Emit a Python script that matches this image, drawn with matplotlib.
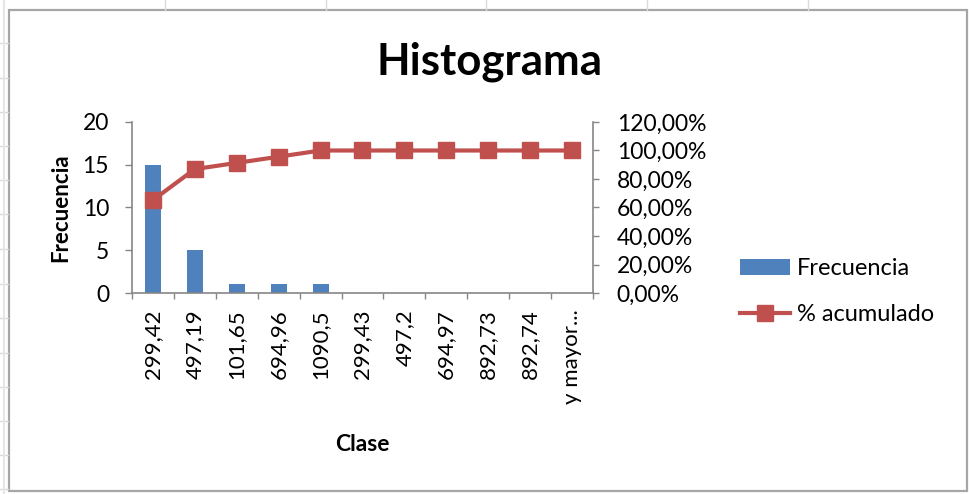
import numpy as np
import matplotlib.pyplot as plt
from matplotlib.lines import Line2D
from matplotlib.patches import Rectangle

# datos del histograma
clases = ['299,42', '497,19', '101,65', '694,96', '1090,5', '299,43',
          '497,2', '694,97', '892,73', '892,74', 'y mayor...']
frecuencia = [15, 5, 1, 1, 1, 0, 0, 0, 0, 0, 0]
acumulado = [65.22, 86.96, 91.30, 95.65, 100.0, 100.0, 100.0, 100.0, 100.0, 100.0, 100.0]

W, H = 969, 494
plt.rcParams['font.family'] = ['Lato', 'DejaVu Sans']


def fx(px):
    return px / W


def fy(py):
    return 1 - py / H


fig = plt.figure(figsize=(W / 100, H / 100), dpi=100)

# fondo de hoja de calculo (celdas)
grid_col = '#DADADA'
for gx in [165, 326, 486, 647, 808]:
    fig.add_artist(Line2D([fx(gx), fx(gx)], [fy(0), fy(10)], color=grid_col, lw=1))
for gy in [43, 78, 112, 146, 180, 214, 249, 284, 318, 353, 387, 421, 455, 489]:
    fig.add_artist(Line2D([fx(0), fx(8)], [fy(gy), fy(gy)], color=grid_col, lw=1))
fig.add_artist(Line2D([fx(4), fx(4)], [fy(0), fy(H)], color='#E6E6E6', lw=1.5))
# borde del grafico
fig.add_artist(Rectangle((fx(9), fy(491)), fx(967) - fx(9), fy(10) - fy(491),
                         fill=False, edgecolor='#A6A6A6', lw=1.6))

ax = fig.add_axes([fx(132), fy(293), fx(593) - fx(132), fy(122) - fy(293)])
x = np.arange(len(clases))
bars = ax.bar(x, frecuencia, width=0.38, color='#4F81BD', label='Frecuencia', zorder=2)
ax.set_xlim(-0.5, len(clases) - 0.5)
ax.set_ylim(0, 20)
ax.set_yticks([0, 5, 10, 15, 20])
ax.set_xticks(x)
ax.set_xticklabels(clases, rotation=90, fontsize=16)
ax.set_xticks(np.arange(-0.5, len(clases), 1), minor=True)
ax.tick_params(axis='x', which='major', length=0, pad=12)
ax.tick_params(axis='x', which='minor', length=4, width=1, color='#868686')
ax.tick_params(axis='y', length=5, width=1, color='#868686', pad=11.5, labelsize=16.5)

ax2 = ax.twinx()
line, = ax2.plot(x, acumulado, color='#C0504D', lw=3, marker='s', ms=12,
                 label='% acumulado', zorder=3)
ax2.set_ylim(0, 120)
ax2.set_yticks(np.arange(0, 121, 20))
ax2.set_yticklabels([f'{v:.2f}'.replace('.', ',') + '%' for v in np.arange(0, 121, 20)])
ax2.tick_params(axis='y', length=4, width=1, color='#868686', pad=13, labelsize=16.5)

for a in (ax, ax2):
    a.spines['top'].set_visible(False)
    for s in ('left', 'right', 'bottom'):
        a.spines[s].set_color('#868686')
        a.spines[s].set_linewidth(1.2)
ax.spines['right'].set_visible(False)
ax2.spines['left'].set_visible(False)
ax2.spines['bottom'].set_visible(False)

ax.set_ylabel('Frecuencia', fontsize=16, fontweight='bold', va='center')
ax.yaxis.set_label_coords(-0.155, 0.5)
ax.set_xlabel('Clase', fontsize=16.5, fontweight='bold', va='center')
ax.xaxis.set_label_coords(0.5, -0.885)

fig.text(fx(490), fy(62), 'Histograma', fontsize=31.5, fontweight='bold',
         ha='center', va='center')

fig.legend([bars, line], ['Frecuencia', '% acumulado'], loc='center left',
           bbox_to_anchor=(fx(740), fy(291.5)), frameon=False, fontsize=17,
           handlelength=2.1, handletextpad=0.3, labelspacing=1.05,
           handleheight=0.68, borderpad=0, borderaxespad=0)

fig.savefig('out.png', dpi=100)
